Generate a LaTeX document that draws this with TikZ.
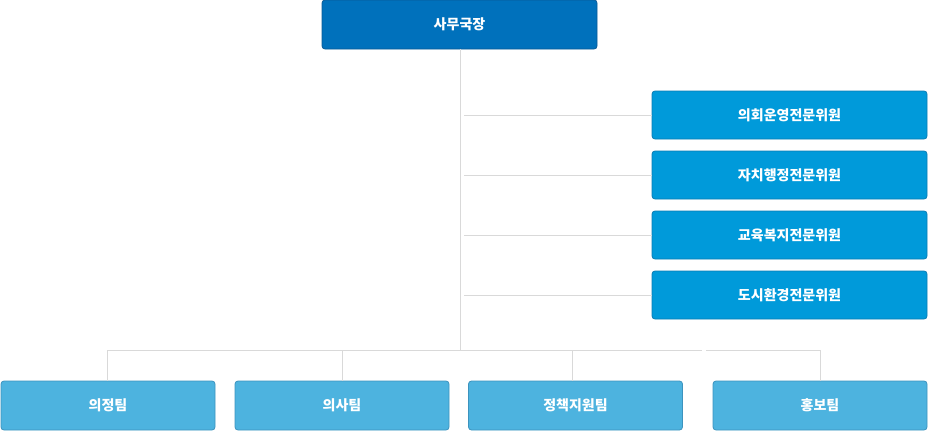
\documentclass[tikz,border=0pt]{standalone}
\usepackage{fontspec}
\newfontfamily\krfont{Noto Sans CJK KR}
\usetikzlibrary{positioning}

\definecolor{headblue}{HTML}{0071BC}
\definecolor{headedge}{HTML}{0A5A96}
\definecolor{comblue}{HTML}{009ADA}
\definecolor{comedge}{HTML}{0B7DB4}
\definecolor{teamblue}{HTML}{4DB3DF}
\definecolor{teamedge}{HTML}{3C93BE}
\definecolor{linegray}{HTML}{D9D9D9}

\tikzset{
  box/.style={draw, rounded corners=3pt, line width=0.8pt, text=white,
    font=\krfont\bfseries\fontsize{14}{14}\selectfont, inner sep=0pt},
  headbox/.style={box, fill=headblue, draw=headedge, minimum width=275pt, minimum height=49pt},
  combox/.style={box, fill=comblue, draw=comedge, minimum width=275pt, minimum height=48pt},
  teambox/.style={box, fill=teamblue, draw=teamedge, minimum width=214pt, minimum height=49pt},
  link/.style={draw=linegray, line width=1pt}
}

\begin{document}
\begin{tikzpicture}[x=1pt, y=-1pt]

  \useasboundingbox (0,0) rectangle (928,431);

  \node [headbox] (head) at (459.5,24.5) {사무국장};

  \node [combox] (com1) at (789.5,115) {의회운영전문위원};
  \node [combox] (com2) at (789.5,175) {자치행정전문위원};
  \node [combox] (com3) at (789.5,235) {교육복지전문위원};
  \node [combox] (com4) at (789.5,295) {도시환경전문위원};

  \node [teambox] (team1) at (108,405.5) {의정팀};
  \node [teambox] (team2) at (342,405.5) {의사팀};
  \node [teambox] (team3) at (575.5,405.5) {정책지원팀};
  \node [teambox] (team4) at (820,405.5) {홍보팀};

  \coordinate (bus) at (460,350);

  \draw [link] (head.south -| bus) -- (bus);

  \foreach \c in {com1,com2,com3,com4}
    \draw [link] (464,0 |- \c.west) -- (\c.west);

  \draw [link] (107,350) -- (702,350);
  \draw [link] (706,350) -- (820,350);
  \draw [link] (107,350) -- (team1.north -| 107,0);
  \draw [link] (342,350) -- (team2.north);
  \draw [link] (572,350) -- (team3.north -| 572,0);
  \draw [link] (820,350) -- (team4.north);

\end{tikzpicture}
\end{document}
